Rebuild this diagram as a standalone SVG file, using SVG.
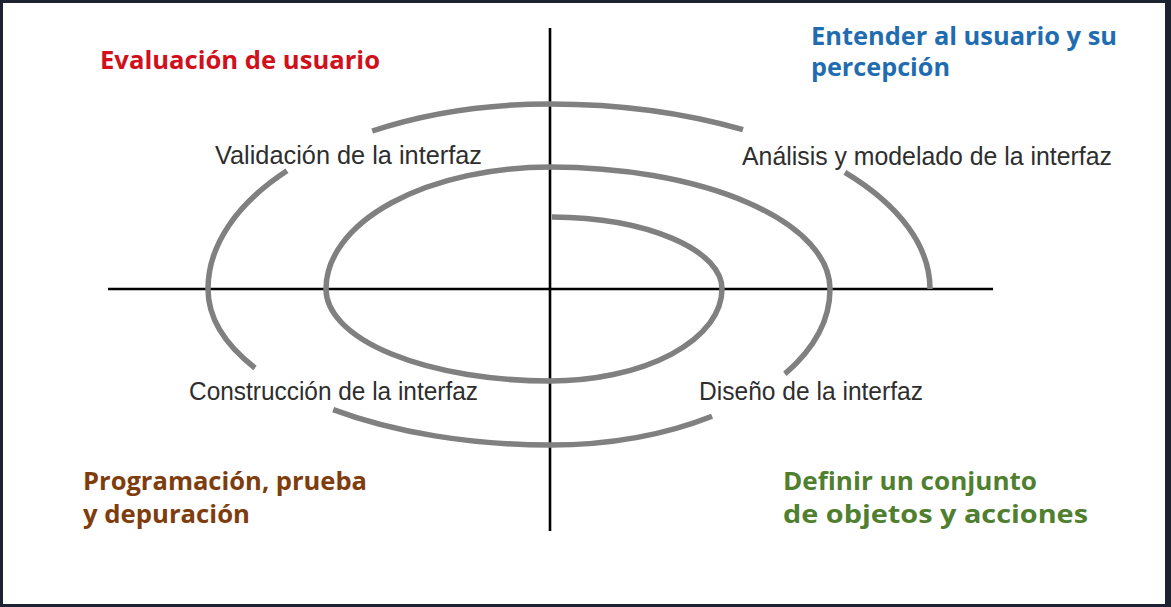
<svg xmlns="http://www.w3.org/2000/svg" width="1171" height="607" viewBox="0 0 1171 607">
<style>
.axis{stroke:#000;stroke-width:2.6;fill:none}
.spiral{stroke:#808080;stroke-width:5.5;fill:none;stroke-linecap:butt}
.phase{font-family:"Liberation Sans",Arial,sans-serif;font-size:25px;fill:#2e2e2e}
.note{font-family:"Open Sans","Liberation Sans",sans-serif;font-size:25px;font-weight:700}
</style>
<rect x="0" y="0" width="1171" height="607" fill="#1c2230"/>
<rect x="3" y="3" width="1162" height="601" fill="#ffffff"/>
<g id="connectors">
<line class="axis" x1="550" y1="28" x2="550" y2="531"/>
<line class="axis" x1="108" y1="289" x2="993" y2="289"/>
<path class="spiral" d="M552,217 A172,72 0 0 1 722,289 A172,92 0 0 1 550,381 A224,92 0 0 1 326,289 A224,122 0 0 1 550,167 A280,122 0 0 1 830,289 A280,156 0 0 1 784.9,373.9"/>
<path class="spiral" d="M712.1,416.2 A280,156 0 0 1 550,445 A342,156 0 0 1 333.2,409.6"/>
<path class="spiral" d="M255,368 A342,156 0 0 1 208,289 A342,185 0 0 1 287,170.8"/>
<path class="spiral" d="M372.2,131 A342,185 0 0 1 550,104 A380,185 0 0 1 743,129.7"/>
<path class="spiral" d="M844.9,172.3 A380,185 0 0 1 930,289"/>
</g>
<g id="validacion"><text class="phase" x="215" y="164" textLength="267" lengthAdjust="spacingAndGlyphs">Validación de la interfaz</text></g>
<g id="analisis"><text class="phase" x="742" y="165" textLength="370" lengthAdjust="spacingAndGlyphs">Análisis y modelado de la interfaz</text></g>
<g id="construccion"><text class="phase" x="189" y="400" textLength="289" lengthAdjust="spacingAndGlyphs">Construcción de la interfaz</text></g>
<g id="diseno"><text class="phase" x="699" y="400" textLength="224" lengthAdjust="spacingAndGlyphs">Diseño de la interfaz</text></g>
<g id="evaluacion"><text class="note" x="100" y="69" fill="#d0101b" textLength="280" lengthAdjust="spacingAndGlyphs">Evaluación de usuario</text></g>
<g id="entender">
<text class="note" x="811" y="45" fill="#1f6db0" textLength="306" lengthAdjust="spacingAndGlyphs">Entender al usuario y su</text>
<text class="note" x="811" y="76" fill="#1f6db0" textLength="139" lengthAdjust="spacingAndGlyphs">percepción</text>
</g>
<g id="programacion">
<text class="note" x="83" y="490" fill="#7f3d0e" textLength="284" lengthAdjust="spacingAndGlyphs">Programación, prueba</text>
<text class="note" x="83" y="523" fill="#7f3d0e" textLength="167" lengthAdjust="spacingAndGlyphs">y depuración</text>
</g>
<g id="definir">
<text class="note" x="783" y="490" fill="#4f7f2f" textLength="254" lengthAdjust="spacingAndGlyphs">Definir un conjunto</text>
<text class="note" x="783" y="523" fill="#4f7f2f" textLength="305" lengthAdjust="spacingAndGlyphs">de objetos y acciones</text>
</g>
</svg>
